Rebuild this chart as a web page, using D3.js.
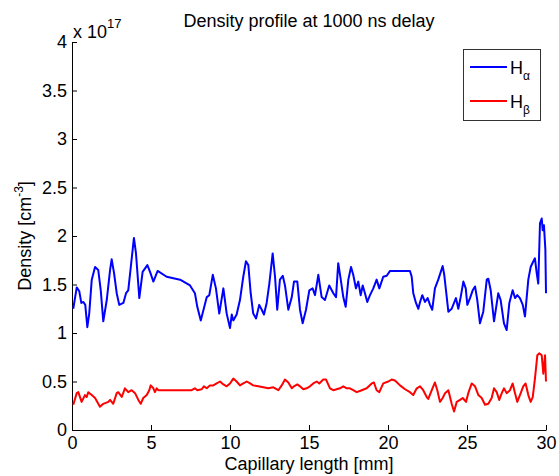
<!DOCTYPE html>
<html>
<head>
<meta charset="utf-8">
<script src="https://cdn.jsdelivr.net/npm/d3@7"></script>
<style>
  body { margin: 0; background: #fff; }
  text { font-family: "Liberation Sans", Arial, sans-serif; }
</style>
</head>
<body>
<div id="chart"></div>
<script>
var svgWidth = 559;
var svgHeight = 476;

var margin = { top: 42, right: 13, bottom: 46, left: 72 };
var width = svgWidth - margin.left - margin.right;
var height = svgHeight - margin.top - margin.bottom;

// H-alpha profile, density in units of 1e17 cm^-3
var haX = [0.08, 0.30, 0.46, 0.59, 0.72, 0.84, 0.97, 1.09, 1.25, 1.46, 1.66, 1.82, 1.98, 2.20, 2.41, 2.51, 2.66, 2.83, 2.99, 3.25,
  3.42, 3.56, 3.72, 3.92, 4.05, 4.26, 4.47, 4.77, 4.94, 5.15, 5.42, 5.99, 6.84, 7.47, 7.78, 7.93, 8.15, 8.53, 8.69, 8.91,
  9.11, 9.32, 9.58, 9.79, 10.0, 10.11, 10.21, 10.42, 10.63, 10.84, 11.01, 11.16, 11.31, 11.47, 11.65, 11.85, 12.01, 12.15, 12.32, 12.49,
  12.70, 12.85, 12.99, 13.16, 13.34, 13.48, 13.69, 13.91, 14.05, 14.26, 14.43, 14.60, 14.81, 15.02, 15.23, 15.38, 15.59, 15.80, 16.01, 16.28,
  16.54, 16.71, 16.85, 17.01, 17.17, 17.32, 17.49, 17.66, 17.80, 17.97, 18.12, 18.27, 18.40, 18.54, 18.69, 18.86, 19.07, 19.28, 19.45, 19.70,
  19.92, 20.13, 21.39, 21.50, 21.60, 21.77, 21.92, 22.03, 22.17, 22.34, 22.51, 22.66, 22.80, 22.97, 23.18, 23.34, 23.46, 23.56, 23.67, 23.82,
  24.03, 24.30, 24.45, 24.60, 24.77, 24.92, 25.02, 25.19, 25.36, 25.51, 25.65, 25.82, 26.03, 26.25, 26.35, 26.50, 26.71, 26.98, 27.13, 27.34,
  27.51, 27.68, 27.89, 28.04, 28.18, 28.35, 28.53, 28.67, 28.88, 29.03, 29.20, 29.30, 29.41, 29.51, 29.62, 29.73, 29.79, 29.87, 29.96, 30.0];
var haY = [1.25, 1.47, 1.43, 1.31, 1.32, 1.29, 1.06, 1.20, 1.55, 1.68, 1.65, 1.44, 1.12, 1.34, 1.65, 1.76, 1.62, 1.41, 1.29, 1.31,
  1.41, 1.44, 1.68, 1.98, 1.82, 1.36, 1.63, 1.70, 1.63, 1.53, 1.64, 1.58, 1.55, 1.49, 1.41, 1.27, 1.13, 1.37, 1.39, 1.60,
  1.46, 1.20, 1.46, 1.20, 1.05, 1.19, 1.13, 1.19, 1.34, 1.58, 1.74, 1.70, 1.41, 1.20, 1.15, 1.29, 1.24, 1.19, 1.31, 1.51,
  1.82, 1.58, 1.24, 1.55, 1.59, 1.49, 1.24, 1.37, 1.53, 1.53, 1.24, 1.10, 1.24, 1.44, 1.46, 1.39, 1.60, 1.37, 1.34, 1.49,
  1.41, 1.37, 1.72, 1.55, 1.37, 1.27, 1.55, 1.68, 1.60, 1.46, 1.53, 1.39, 1.49, 1.41, 1.32, 1.39, 1.46, 1.55, 1.46, 1.58,
  1.59, 1.64, 1.64, 1.58, 1.41, 1.31, 1.25, 1.32, 1.39, 1.32, 1.36, 1.29, 1.24, 1.46, 1.55, 1.63, 1.69, 1.60, 1.44, 1.22,
  1.25, 1.36, 1.25, 1.37, 1.53, 1.46, 1.29, 1.36, 1.44, 1.48, 1.34, 1.10, 1.22, 1.55, 1.56, 1.44, 1.12, 1.41, 1.34, 1.10,
  1.03, 1.31, 1.44, 1.36, 1.39, 1.36, 1.29, 1.17, 1.55, 1.68, 1.74, 1.77, 1.62, 1.51, 2.13, 2.18, 2.06, 2.11, 1.86, 1.41];

// H-beta profile
var hbX = [0.08, 0.30, 0.40, 0.61, 0.82, 0.93, 1.03, 1.25, 1.46, 1.77, 1.98, 2.30, 2.41, 2.61, 2.83, 2.93, 3.15, 3.35, 3.56, 3.78,
  3.99, 4.20, 4.35, 4.51, 4.73, 4.89, 4.98, 5.15, 5.25, 5.36, 5.46, 6.41, 7.57, 7.78, 7.93, 8.21, 8.35, 8.53, 8.73, 8.94,
  9.16, 9.37, 9.58, 9.79, 10.0, 10.21, 10.42, 10.63, 10.84, 11.06, 11.27, 11.47, 11.79, 12.11, 12.42, 12.74, 13.06, 13.27, 13.48, 13.69,
  13.91, 14.05, 14.26, 14.43, 14.64, 14.85, 15.06, 15.27, 15.49, 15.65, 15.90, 16.08, 16.33, 16.54, 16.75, 16.96, 17.17, 17.39, 17.59, 17.80,
  18.02, 18.34, 18.65, 18.97, 19.11, 19.28, 19.45, 19.70, 20.02, 20.23, 20.44, 20.76, 21.08, 21.39, 21.60, 21.82, 22.03, 22.23, 22.45, 22.55,
  22.77, 22.97, 23.12, 23.29, 23.46, 23.61, 23.82, 24.03, 24.18, 24.35, 24.56, 24.73, 24.94, 25.08, 25.30, 25.51, 25.72, 25.93, 26.14, 26.35,
  26.56, 26.71, 26.88, 27.04, 27.20, 27.34, 27.51, 27.72, 27.89, 28.04, 28.18, 28.35, 28.56, 28.71, 28.88, 29.03, 29.16, 29.30, 29.45, 29.57,
  29.73, 29.83, 29.94, 30.0];
var hbY = [0.26, 0.38, 0.39, 0.29, 0.36, 0.34, 0.39, 0.36, 0.33, 0.24, 0.27, 0.29, 0.31, 0.27, 0.38, 0.39, 0.34, 0.43, 0.39, 0.41,
  0.38, 0.31, 0.27, 0.33, 0.36, 0.41, 0.46, 0.43, 0.39, 0.43, 0.41, 0.41, 0.41, 0.43, 0.41, 0.42, 0.45, 0.43, 0.46, 0.46,
  0.48, 0.50, 0.47, 0.45, 0.48, 0.53, 0.50, 0.46, 0.48, 0.50, 0.48, 0.46, 0.45, 0.44, 0.43, 0.44, 0.41, 0.46, 0.52, 0.49,
  0.43, 0.45, 0.47, 0.45, 0.42, 0.43, 0.45, 0.48, 0.50, 0.48, 0.52, 0.52, 0.43, 0.41, 0.42, 0.43, 0.45, 0.43, 0.43, 0.41,
  0.39, 0.41, 0.43, 0.48, 0.49, 0.41, 0.39, 0.48, 0.50, 0.52, 0.51, 0.46, 0.42, 0.39, 0.36, 0.43, 0.45, 0.41, 0.34, 0.32,
  0.41, 0.49, 0.41, 0.29, 0.33, 0.38, 0.41, 0.27, 0.19, 0.29, 0.31, 0.33, 0.29, 0.38, 0.48, 0.45, 0.36, 0.33, 0.26, 0.27,
  0.33, 0.43, 0.39, 0.31, 0.38, 0.43, 0.38, 0.41, 0.48, 0.38, 0.29, 0.36, 0.45, 0.48, 0.36, 0.29, 0.34, 0.53, 0.77, 0.79,
  0.77, 0.58, 0.77, 0.50];

var xTicks = [0, 5, 10, 15, 20, 25, 30];
var yTicks = [0, 0.5, 1, 1.5, 2, 2.5, 3, 3.5, 4];

var svg = d3.select("#chart")
  .append("svg")
  .attr("width", svgWidth)
  .attr("height", svgHeight);

var chartGroup = svg.append("g")
  .attr("transform", `translate(${margin.left}, ${margin.top})`);

// Scales
var xScale = d3.scaleLinear().domain([0, 30]).range([0, width]);
var yScale = d3.scaleLinear().domain([0, 4]).range([height, 0]);

// Axes, ticks pointing inward like matlab
var xAxis = d3.axisBottom(xScale).tickValues(xTicks).tickFormat(d => String(d))
  .tickSizeInner(-5).tickSizeOuter(0).tickPadding(6);
var yAxis = d3.axisLeft(yScale).tickValues(yTicks).tickFormat(d => String(d))
  .tickSizeInner(-5).tickSizeOuter(0).tickPadding(5);

var gx = chartGroup.append("g").attr("transform", `translate(0, ${height})`).call(xAxis);
var gy = chartGroup.append("g").call(yAxis);

[gx, gy].forEach(function(g) {
  g.selectAll("text").attr("font-size", "18px").attr("fill", "#000")
    .style("font-family", '"Liberation Sans", Arial, sans-serif');
  g.selectAll("line").attr("stroke", "#000");
  g.select(".domain").attr("stroke", "#000");
});

// Lines
var line = d3.line()
  .x(d => xScale(d[0]))
  .y(d => yScale(d[1]));

chartGroup.append("path")
  .datum(d3.zip(hbX, hbY))
  .attr("fill", "none")
  .attr("stroke", "#ff0000")
  .attr("stroke-width", 2)
  .attr("stroke-linejoin", "round")
  .attr("d", line);

chartGroup.append("path")
  .datum(d3.zip(haX, haY))
  .attr("fill", "none")
  .attr("stroke", "#0000ff")
  .attr("stroke-width", 2)
  .attr("stroke-linejoin", "round")
  .attr("d", line);

// Exponent label
var expo = svg.append("text")
  .attr("x", 73)
  .attr("y", 38)
  .attr("font-size", "18px");
expo.append("tspan").text("x 10");
expo.append("tspan").attr("font-size", "13px").attr("dy", -10).text("17");

// Title
svg.append("text")
  .attr("x", margin.left + width / 2)
  .attr("y", 27)
  .attr("text-anchor", "middle")
  .attr("font-size", "18px")
  .text("Density profile at 1000 ns delay");

// Axis titles
svg.append("text")
  .attr("x", margin.left + width / 2)
  .attr("y", 470)
  .attr("text-anchor", "middle")
  .attr("font-size", "18px")
  .text("Capillary length [mm]");

var ylab = svg.append("text")
  .attr("transform", `translate(31, ${margin.top + height / 2}) rotate(-90)`)
  .attr("text-anchor", "middle")
  .attr("font-size", "18px");
ylab.append("tspan").text("Density [cm");
ylab.append("tspan").attr("font-size", "12px").attr("dy", -8).text("-3");
ylab.append("tspan").attr("dy", 8).text("]");

// Legend
var legend = svg.append("g");
legend.append("rect")
  .attr("x", 463.5).attr("y", 49.5)
  .attr("width", 77).attr("height", 71)
  .attr("fill", "#fff").attr("stroke", "#333").attr("stroke-width", 1);

var legendItems = [
  { color: "#0000ff", sub: "\u03b1", y: 67 },
  { color: "#ff0000", sub: "\u03b2", y: 101 }
];
legendItems.forEach(function(item) {
  legend.append("line")
    .attr("x1", 470).attr("x2", 507)
    .attr("y1", item.y).attr("y2", item.y)
    .attr("stroke", item.color).attr("stroke-width", 2);
  var t = legend.append("text")
    .attr("x", 510).attr("y", item.y + 6.5)
    .attr("font-size", "18px");
  t.append("tspan").text("H");
  t.append("tspan").attr("font-size", "12px").attr("dy", 6).text(item.sub);
});
</script>
</body>
</html>
